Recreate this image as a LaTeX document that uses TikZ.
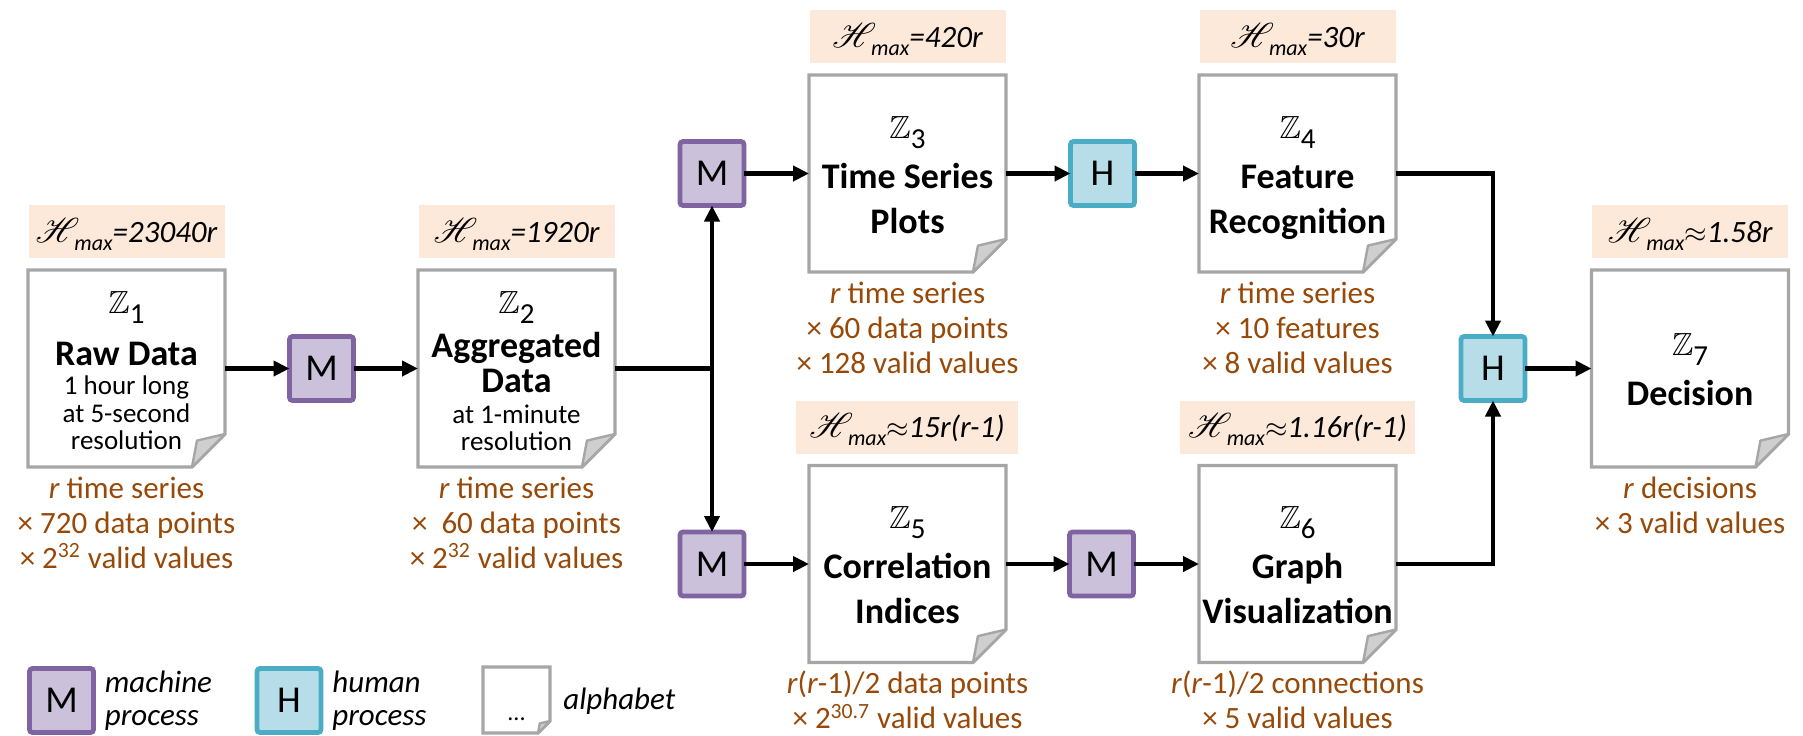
\documentclass[tikz,border=0pt]{standalone}
\usepackage{fontspec}
\setmainfont{Carlito}
\usepackage{amssymb}
\usepackage{mathrsfs}
\usetikzlibrary{arrows.meta,calc}
\definecolor{mfill}{HTML}{CCC1DA}
\definecolor{mdraw}{HTML}{8064A2}
\definecolor{hfill}{HTML}{B7DEE8}
\definecolor{hdraw}{HTML}{4BACC6}
\definecolor{pinkc}{HTML}{FDE9D9}
\definecolor{brownc}{HTML}{984807}
\definecolor{docgray}{HTML}{A6A6A6}
\definecolor{foldgray}{HTML}{CFCFCF}
\newcommand\zz[1]{{\fontsize{16}{16}\selectfont$\mathbb{Z}$}\raisebox{-5pt}{\fontsize{14.5}{14.5}\selectfont #1}}
\newcommand\hmax{{\fontsize{18}{18}\selectfont$\mathscr{H}$}\kern-2.5pt\raisebox{-4pt}{\fontsize{11}{11}\selectfont max}}
\newcommand\tstrut{\rule{0pt}{11.5pt}}
\newcommand\docshape[2]{%
  \draw[docline] (#1.north west) -- (#1.north east) -- ($(#1.south east)+(0,-#2)$) -- ($(#1.south east)+(-#2,0)$) -- (#1.south west) -- cycle;
  \filldraw[foldst] ($(#1.south east)+(-#2,0)$) -- ($(#1.south east)+(-0.85*#2,-0.8*#2)$) -- ($(#1.south east)+(0,-#2)$) -- cycle;}
\tikzset{
  x=0.5pt, y=-0.5pt,
  doc/.style={minimum width=98.5pt, minimum height=98.5pt, inner sep=0, outer sep=0},
  docline/.style={draw=docgray, line width=1.6pt, fill=white, line join=miter},
  foldst/.style={draw=docgray, fill=foldgray, line width=1.2pt, line join=round},
  mproc/.style={draw=mdraw, fill=mfill, line width=2.4pt, rounded corners=1.5pt, minimum size=32pt, inner sep=0, outer sep=0, font=\fontsize{19}{19}\selectfont},
  hproc/.style={mproc, draw=hdraw, fill=hfill},
  hbox/.style={fill=pinkc, minimum height=26.5pt, inner sep=0, text height=12pt, text depth=1.5pt, font=\fontsize{15.5}{15.5}\selectfont\itshape},
  ztxt/.style={anchor=base, inner sep=0},
  ttl/.style={anchor=base, inner sep=0, font=\fontsize{18}{18}\selectfont\bfseries},
  sml/.style={anchor=base, inner sep=0, font=\fontsize{13.5}{13.5}\selectfont},
  info/.style={anchor=north, inner sep=0, align=center, text=brownc, font=\fontsize{15.5}{17.5}\selectfont},
  flow/.style={line width=2.3pt, -{Triangle[length=8pt,width=7.5pt]}},
  plain/.style={line width=2.3pt},
  leg/.style={anchor=north west, align=left, inner sep=0, font=\fontsize{15.5}{16.5}\selectfont\itshape},
}
\begin{document}
\begin{tikzpicture}
\useasboundingbox (0,0) rectangle (1803,735);
% documents
\node[doc] (d1) at (126.5,368.5) {};
\node[doc] (d2) at (516.5,368.5) {};
\node[doc] (d3) at (907.5,173.5) {};
\node[doc] (d4) at (1297.5,173.5) {};
\node[doc] (d5) at (907.5,564) {};
\node[doc] (d6) at (1297.5,564) {};
\node[doc] (d7) at (1690,368.5) {};
\node[minimum width=33.5pt, minimum height=33pt, inner sep=0, outer sep=0] (ld) at (516.5,700) {};
\docshape{d1}{33}
\docshape{d2}{33}
\docshape{d3}{33}
\docshape{d4}{33}
\docshape{d5}{33}
\docshape{d6}{33}
\docshape{d7}{33}
\docshape{ld}{12}
% document texts
\node[ztxt] (d1z) at ($(d1.north)+(0,43)$) {\zz{1}};
\node[ttl] (d1t) at ($(d1.north)+(0,95)$) {Raw Data};
\node[sml] (d1a) at ($(d1.north)+(0,124)$) {1 hour long};
\node[sml] (d1b) at ($(d1.north)+(0,152)$) {at 5-second};
\node[sml] (d1c) at ($(d1.north)+(0,179)$) {resolution};
\node[ztxt] (d2z) at ($(d2.north)+(0,43)$) {\zz{2}};
\node[ttl] (d2t) at ($(d2.north)+(0,87)$) {Aggregated};
\node[ttl] (d2u) at ($(d2.north)+(0,122)$) {Data};
\node[sml] (d2a) at ($(d2.north)+(0,153)$) {at 1-minute};
\node[sml] (d2b) at ($(d2.north)+(0,180)$) {resolution};
\node[ztxt] (d3z) at ($(d3.north)+(0,63)$) {\zz{3}};
\node[ttl] (d3t) at ($(d3.north)+(0,113)$) {Time Series};
\node[ttl] (d3u) at ($(d3.north)+(0,158)$) {Plots};
\node[ztxt] (d4z) at ($(d4.north)+(0,63)$) {\zz{4}};
\node[ttl] (d4t) at ($(d4.north)+(0,113)$) {Feature};
\node[ttl] (d4u) at ($(d4.north)+(0,158)$) {Recognition};
\node[ztxt] (d5z) at ($(d5.north)+(0,63)$) {\zz{5}};
\node[ttl] (d5t) at ($(d5.north)+(0,113)$) {Correlation};
\node[ttl] (d5u) at ($(d5.north)+(0,158)$) {Indices};
\node[ztxt] (d6z) at ($(d6.north)+(0,63)$) {\zz{6}};
\node[ttl] (d6t) at ($(d6.north)+(0,113)$) {Graph};
\node[ttl] (d6u) at ($(d6.north)+(0,158)$) {Visualization};
\node[ztxt] (d7z) at ($(d7.north)+(0,85)$) {\zz{7}};
\node[ttl] (d7t) at ($(d7.north)+(0,135)$) {Decision};
% entropy labels
\node[hbox, minimum width=98pt] (p1) at (126.5,231.5) {\hmax=23040r};
\node[hbox, minimum width=98pt] (p2) at (516.5,231.5) {\hmax=1920r};
\node[hbox, minimum width=98pt] (p3) at (907.5,36.5) {\hmax=420r};
\node[hbox, minimum width=98pt] (p4) at (1297.5,36.5) {\hmax=30r};
\node[hbox, minimum width=111pt] (p5) at (907,427) {\hmax$\approx$15r(r-1)};
\node[hbox, minimum width=117.5pt] (p6) at (1297.5,427) {\hmax$\approx$1.16r(r-1)};
\node[hbox, minimum width=98pt] (p7) at (1690,231.5) {\hmax$\approx$1.58r};
% size descriptions
\node[info] (i1) at ($(d1.south)+(0,8)$) {\tstrut\textit{r} time series\\× 720 data points\\× 2\textsuperscript{32} valid values};
\node[info] (i2) at ($(d2.south)+(0,8)$) {\tstrut\textit{r} time series\\×\ \ 60 data points\\× 2\textsuperscript{32} valid values};
\node[info] (i3) at ($(d3.south)+(0,8)$) {\tstrut\textit{r} time series\\× 60 data points\\× 128 valid values};
\node[info] (i4) at ($(d4.south)+(0,8)$) {\tstrut\textit{r} time series\\× 10 features\\× 8 valid values};
\node[info] (i5) at ($(d5.south)+(0,8)$) {\tstrut\textit{r}(\textit{r}-1)/2 data points\\× 2\textsuperscript{30.7} valid values};
\node[info] (i6) at ($(d6.south)+(0,8)$) {\tstrut\textit{r}(\textit{r}-1)/2 connections\\× 5 valid values};
\node[info] (i7) at ($(d7.south)+(0,8)$) {\tstrut\textit{r} decisions\\× 3 valid values};
% processes
\node[mproc] (m1) at (321.5,368.5) {M};
\node[mproc] (mt) at (712,173.5) {M};
\node[mproc] (mb) at (712,564) {M};
\node[hproc] (h1) at (1102.5,173.5) {H};
\node[mproc] (m3) at (1101.5,564) {M};
\node[hproc] (h2) at (1493,368.5) {H};
% connectors
\coordinate (sp) at (d2.east -| mt.south);
\draw[flow] (d1.east) -- (m1.west);
\draw[flow] (m1.east) -- (d2.west);
\draw[plain] (d2.east) -- (sp);
\draw[flow] (sp) -- (mt.south);
\draw[flow] (sp) -- (mb.north);
\draw[flow] (mt.east) -- (d3.west);
\draw[flow] (d3.east) -- (h1.west);
\draw[flow] (h1.east) -- (d4.west);
\draw[flow] (mb.east) -- (d5.west);
\draw[flow] (d5.east) -- (m3.west);
\draw[flow] (m3.east) -- (d6.west);
\draw[flow] (d4.east) -| (h2.north);
\draw[flow] (d6.east) -| (h2.south);
\draw[flow] (h2.east) -- (d7.west);
% legend
\node[mproc] (lm) at (61.5,700.5) {M};
\node[leg] (lmt) at ($(lm.north east)+(11,1)$) {\tstrut machine\\process};
\node[hproc] (lh) at (289,700.5) {H};
\node[leg] (lht) at ($(lh.north east)+(11,1)$) {\tstrut human\\process};
\node[anchor=base, inner sep=0, font=\fontsize{12}{12}\selectfont] (ldt) at ($(ld.south)+(0,-13)$) {...};
\node[anchor=base west, inner sep=0, font=\fontsize{15.5}{15.5}\selectfont\itshape] (lat) at ($(ld.east)+(13,9)$) {alphabet};
\end{tikzpicture}
\end{document}
